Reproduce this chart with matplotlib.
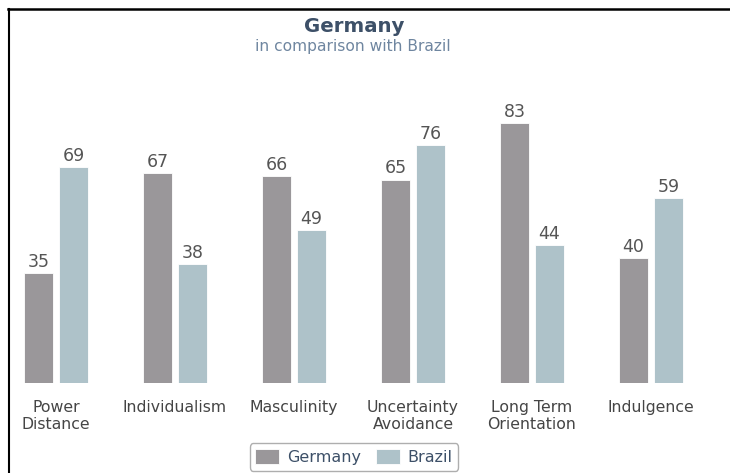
import matplotlib
matplotlib.use("Agg")
import matplotlib.pyplot as plt
from matplotlib.lines import Line2D
import numpy as np

dimensions = ["Power\nDistance", "Individualism", "Masculinity",
              "Uncertainty\nAvoidance", "Long Term\nOrientation", "Indulgence"]
germany = [35, 67, 66, 65, 83, 40]
brazil = [69, 38, 49, 76, 44, 59]

GER_COLOR = "#9a979a"
BRA_COLOR = "#aec2c9"
TEXT_DARK = "#3d5068"

fig = plt.figure(figsize=(7.3, 4.73), dpi=100)
W, H = 730, 473

# axes spans the full width; group centres land at ~56 px + 119 px steps
step = 119
x0 = 56
ax = fig.add_axes([0, (H - 383) / H, 1, 313 / H])
ax.set_xlim(-x0 / step, (W - x0) / step)
ax.set_ylim(0, 100)

x = np.arange(len(dimensions))
bw = 29 / step
off = 17.5 / step
ax.bar(x - off, germany, bw, color=GER_COLOR, edgecolor="white", linewidth=0.6, label="Germany")
ax.bar(x + off, brazil, bw, color=BRA_COLOR, edgecolor="white", linewidth=0.6, label="Brazil")

for xs, vals in ((x - off, germany), (x + off, brazil)):
    for xi, v in zip(xs, vals):
        ax.annotate(f"{v}", (xi, v), xytext=(0, 1.5), textcoords="offset points",
                    ha="center", va="bottom", fontsize=12.5, color="#555555")

ax.set_xticks(x)
ax.set_xticklabels(dimensions, fontsize=11.3, color="#454545", linespacing=1.15)
ax.tick_params(axis="x", length=0, pad=12.5)
ax.set_yticks([])
for s in ax.spines.values():
    s.set_visible(False)
ax.patch.set_alpha(0)

fig.text(354 / W, 1 - 26 / H, "Germany", ha="center", va="center",
         fontsize=14.2, fontweight="bold", color=TEXT_DARK)
fig.text(353 / W, 1 - 46 / H, "in comparison with Brazil", ha="center", va="center",
         fontsize=11.2, color="#6f86a0")

# frame lines along the top and left
fig.add_artist(Line2D([8 / W, 1], [1 - 9.5 / H, 1 - 9.5 / H], color="black", lw=1.8))
fig.add_artist(Line2D([8.5 / W, 8.5 / W], [0, 1 - 9.5 / H], color="black", lw=1.5))

leg = fig.legend(loc="center", bbox_to_anchor=(354 / W, 1 - 457 / H), ncol=2,
                 frameon=True, fancybox=True, fontsize=11.5, handlelength=1.5,
                 handleheight=1.1, handletextpad=0.5, columnspacing=0.9,
                 borderpad=0.35, edgecolor="#9a9a9a")
leg.get_frame().set_linewidth(1.0)
for t in leg.get_texts():
    t.set_color(TEXT_DARK)

fig.savefig("out.png", dpi=100)
